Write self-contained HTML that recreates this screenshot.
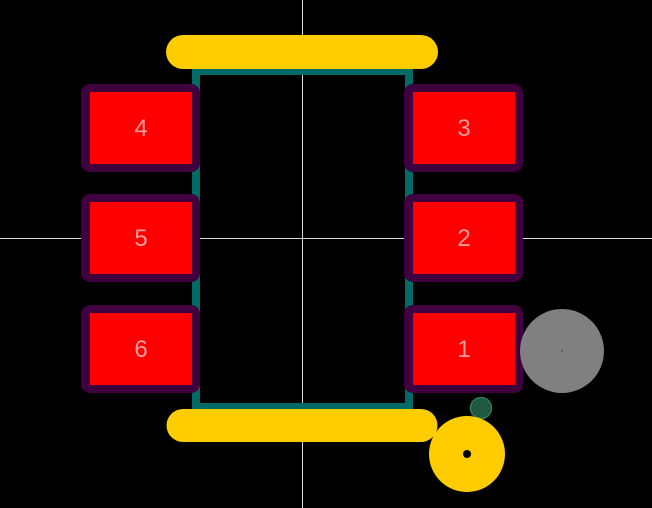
<!DOCTYPE html>
<html><head><style>html,body{margin:0;padding:0;background:#000;overflow:hidden}</style></head><body>
<svg width="652" height="508" viewBox="0 0 652 508" xmlns="http://www.w3.org/2000/svg" style="display:block">
<rect width="652" height="508" fill="#000"/>
<line x1="302.5" y1="0" x2="302.5" y2="508" stroke="#ddd" stroke-width="1"/>
<line x1="0" y1="238.5" x2="652" y2="238.5" stroke="#ddd" stroke-width="1"/>
<rect x="196" y="71" width="213" height="336" fill="none" stroke="#006b66" stroke-width="8"/>
<line x1="183" y1="52" x2="421" y2="52" stroke="#ffcc00" stroke-width="34" stroke-linecap="round"/>
<line x1="183" y1="425.5" x2="421" y2="425.5" stroke="#ffcc00" stroke-width="33" stroke-linecap="round"/>
<g font-family="Liberation Sans, sans-serif" font-size="24" fill="#ff9c9c" text-anchor="middle">
<g>
<rect x="81" y="84" width="119" height="88" rx="9" fill="#400040"/><rect x="90" y="92" width="102" height="72" fill="#ff0000"/><text x="141" y="136">4</text>
<rect x="81" y="194" width="119" height="88" rx="9" fill="#400040"/><rect x="90" y="202" width="102" height="72" fill="#ff0000"/><text x="141" y="246">5</text>
<rect x="81" y="305" width="119" height="88" rx="9" fill="#400040"/><rect x="90" y="313" width="102" height="72" fill="#ff0000"/><text x="141" y="357">6</text>
<rect x="404" y="84" width="119" height="88" rx="9" fill="#400040"/><rect x="413" y="92" width="102" height="72" fill="#ff0000"/><text x="464" y="136">3</text>
<rect x="404" y="194" width="119" height="88" rx="9" fill="#400040"/><rect x="413" y="202" width="102" height="72" fill="#ff0000"/><text x="464" y="246">2</text>
<rect x="404" y="305" width="119" height="88" rx="9" fill="#400040"/><rect x="413" y="313" width="102" height="72" fill="#ff0000"/><text x="464" y="357">1</text>
</g></g>
<circle cx="562" cy="351" r="42" fill="#808080"/>
<circle cx="562" cy="351" r="0.8" fill="#333"/>
<circle cx="481" cy="408" r="10.5" fill="#1f5a40" stroke="#2f7a5a" stroke-width="1.5"/>
<circle cx="467" cy="454" r="38" fill="#ffcc00"/>
<circle cx="467" cy="454" r="4" fill="#000"/>
</svg>
</body></html>
